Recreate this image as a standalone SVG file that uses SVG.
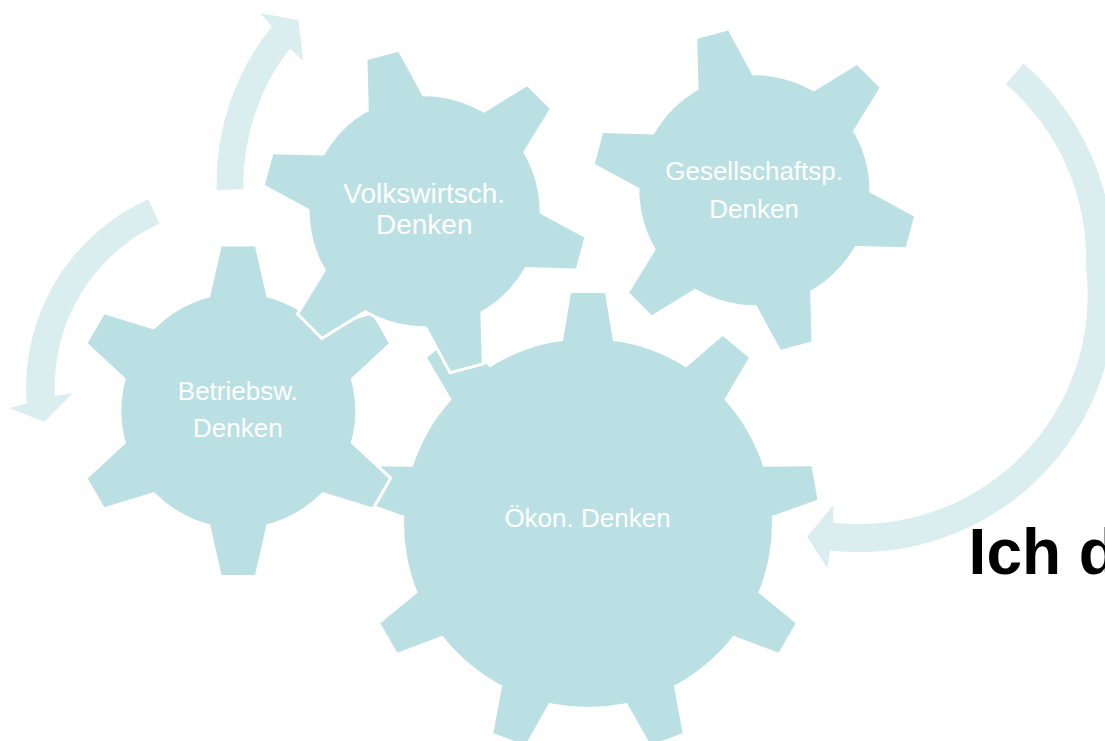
<svg xmlns="http://www.w3.org/2000/svg" width="1105" height="741" viewBox="0 0 1105 741">
<style>
.edge{fill:#ffffff;stroke:#ffffff;stroke-width:6;stroke-linejoin:miter}
.body{fill:#BBE0E3;stroke:none}
.lbl{font-family:"Liberation Sans",Arial,sans-serif;font-size:26px;fill:#ffffff;text-anchor:middle}
.arrow{fill:#DAEDEF;stroke:none}
.title{font-family:"Liberation Sans",Arial,sans-serif;font-size:64px;font-weight:bold;fill:#000000}
</style>
<defs>
<path id="t9" d="M-28.7,-160 L-17,-230 L17,-230 L28.7,-160Z"/>
<path id="t6a" d="M-32.5,-95 L-16.7,-164.2 L16.7,-164.2 L32.5,-95Z"/>
<path id="t6b" d="M-31.8,-95 L-16,-161 L16,-161 L31.8,-95Z"/>
<g id="gear9">
<circle r="184"/>
<use href="#t9"/><use href="#t9" transform="rotate(40)"/><use href="#t9" transform="rotate(80)"/>
<use href="#t9" transform="rotate(120)"/><use href="#t9" transform="rotate(160)"/><use href="#t9" transform="rotate(200)"/>
<use href="#t9" transform="rotate(240)"/><use href="#t9" transform="rotate(280)"/><use href="#t9" transform="rotate(320)"/>
</g>
<g id="gear6a">
<circle r="117"/>
<use href="#t6a"/><use href="#t6a" transform="rotate(60)"/><use href="#t6a" transform="rotate(120)"/>
<use href="#t6a" transform="rotate(180)"/><use href="#t6a" transform="rotate(240)"/><use href="#t6a" transform="rotate(300)"/>
</g>
<g id="gear6b">
<circle r="115"/>
<use href="#t6b"/><use href="#t6b" transform="rotate(60)"/><use href="#t6b" transform="rotate(120)"/>
<use href="#t6b" transform="rotate(180)"/><use href="#t6b" transform="rotate(240)"/><use href="#t6b" transform="rotate(300)"/>
</g>
</defs>
<rect width="1105" height="741" fill="#ffffff"/>
<g id="connectors">
<path class="arrow" d="M216.7,190 A249.2,249.2 0 0 1 271.7,26.7 L260.7,13.3 L298.3,20 L303.3,61 L290,48.3 A222.5,222.5 0 0 0 243.4,189.2 Z"/>
<path class="arrow" d="M148.3,199.3 A206.5,206.5 0 0 0 26.7,403.3 L9.3,408.3 L44.3,421.7 L72.7,393.3 L55,396 A180,180 0 0 1 159.4,223.5 Z"/>
<path class="arrow" d="M1023.5,63.5 A258.8,258.8 0 0 1 1113,266.6 L1112.9,264.6 A256,256 0 0 1 830,550.5 L827.3,568.3 L807.3,536.7 L833.3,505 L833.3,522.7 A229,229 0 0 0 1086.1,267.8 L1086,265.8 A231.8,231.8 0 0 0 1005.9,83.9 Z"/>
</g>
<g id="node-oekon">
<g transform="translate(588,523)"><use href="#gear9" class="edge"/><use href="#gear9" class="body"/></g>
<text class="lbl" x="587.5" y="526.7">Ökon. Denken</text>
</g>
<g id="node-betriebsw">
<g transform="translate(238.3,410.8)"><use href="#gear6a" class="edge"/><use href="#gear6a" class="body"/></g>
<text class="lbl" x="237.8" y="400">Betriebsw.</text>
<text class="lbl" x="237.8" y="437.3">Denken</text>
</g>
<g id="node-volkswirtsch">
<g transform="translate(424.6,211.3) rotate(-15)"><use href="#gear6b" class="edge"/><use href="#gear6b" class="body"/></g>
<text class="lbl" x="424.2" y="202.7" style="font-size:28px">Volkswirtsch.</text>
<text class="lbl" x="424.2" y="234" style="font-size:28px">Denken</text>
</g>
<g id="node-gesellschaftsp">
<g transform="translate(754.4,190.2) rotate(-15)"><use href="#gear6b" class="edge"/><use href="#gear6b" class="body"/></g>
<text class="lbl" x="754.1" y="179.8">Gesellschaftsp.</text>
<text class="lbl" x="754.1" y="217.9">Denken</text>
</g>
<text class="title" x="968.6" y="574">Ich d</text>
</svg>
